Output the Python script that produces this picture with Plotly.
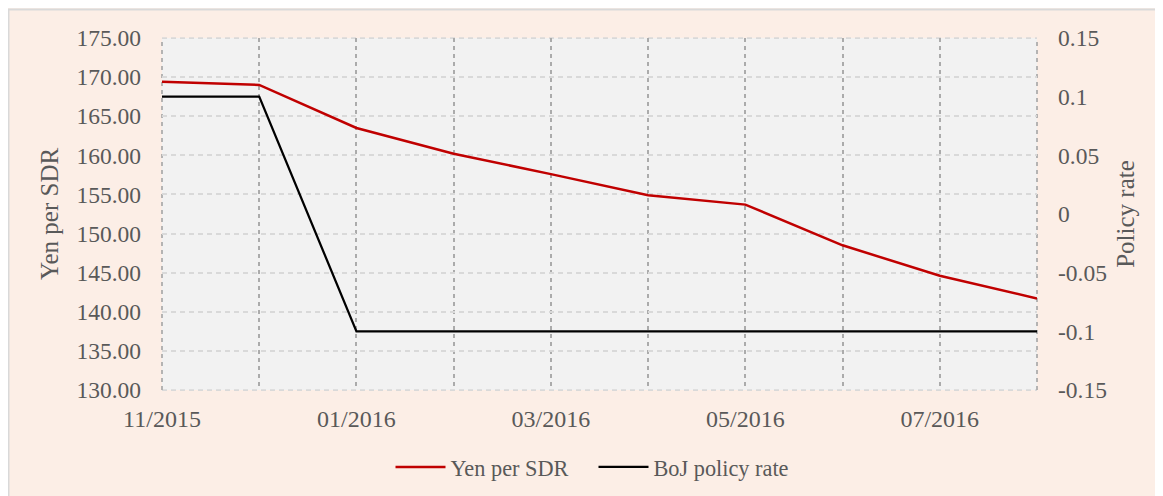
import plotly.graph_objects as go

months = ["11/2015", "12/2015", "01/2016", "02/2016", "03/2016",
          "04/2016", "05/2016", "06/2016", "07/2016", "08/2016"]
yen_per_sdr = [169.4, 169.0, 163.5, 160.2, 157.6, 154.9, 153.7, 148.5, 144.6, 141.7]
boj_rate = [0.1, 0.1, -0.1, -0.1, -0.1, -0.1, -0.1, -0.1, -0.1, -0.1]
x_ticktext = ["11/2015", "", "01/2016", "", "03/2016", "", "05/2016", "", "07/2016", ""]
y1_ticks = [130, 135, 140, 145, 150, 155, 160, 165, 170, 175]
y2_ticks = [-0.15, -0.1, -0.05, 0, 0.05, 0.1, 0.15]
y2_ticktext = ["-0.15", "-0.1", "-0.05", "0", "0.05", "0.1", "0.15"]

FONT = "Liberation Serif"
TXT = "#595959"
VGRID = dict(color="#ABABAB", width=1.75, dash="4px,4px")
HGRID = dict(color="#D9D9D9", width=1.75, dash="5px,4px")

W, H = 1155, 488
ML, MR, MT, MB = 154, 126, 30, 106
PW, PH = W - ML - MR, H - MT - MB

fig = go.Figure()
fig.add_trace(go.Scatter(x=months, y=yen_per_sdr, name="Yen per SDR", mode="lines",
                         line=dict(color="#C00000", width=2.5), yaxis="y",
                         legendwidth=138))
fig.add_trace(go.Scatter(x=months, y=boj_rate, name="BoJ policy rate", mode="lines",
                         line=dict(color="#000000", width=2.25), yaxis="y2"))

# chart border and plot-area panel
fig.add_shape(type="rect", xref="paper", yref="paper",
              x0=-(ML - 0.5) / PW, x1=1 + (MR + 20) / PW,
              y0=-(MB + 20) / PH, y1=1 + (MT - 1.5) / PH,
              fillcolor="#FCEEE6", line=dict(color="#D9D9D9", width=2), layer="below")
fig.add_shape(type="rect", xref="paper", yref="paper", x0=0, x1=1, y0=0, y1=1,
              fillcolor="#F2F2F2", line=dict(width=0), layer="below")
# gridlines at the plot-area edges (plotly omits them)
for yy in (0, 1):
    fig.add_shape(type="line", xref="paper", yref="paper", x0=0, x1=1, y0=yy, y1=yy,
                  line=HGRID, layer="below")
for xx in (0, 1):
    fig.add_shape(type="line", xref="paper", yref="paper", x0=xx, x1=xx, y0=0, y1=1,
                  line=VGRID, layer="below")

fig.update_layout(
    width=W, height=H, autosize=False,
    margin=dict(l=ML, r=MR, t=MT, b=MB, autoexpand=False),
    paper_bgcolor="#FCEEE6", plot_bgcolor="rgba(0,0,0,0)",
    font=dict(family=FONT, color=TXT, size=22),
    showlegend=True,
    legend=dict(orientation="h", x=0.492, xanchor="center", yref="container",
                y=1 - (467 - 8) / H, yanchor="middle", itemwidth=50,
                font=dict(size=22.3, color=TXT), bgcolor="rgba(0,0,0,0)"),
    xaxis=dict(type="category", categoryorder="array", categoryarray=months,
               range=[0, len(months) - 1], tickmode="array", tickvals=months,
               ticktext=x_ticktext, showgrid=True, gridcolor=VGRID["color"],
               gridwidth=VGRID["width"], griddash=VGRID["dash"], showline=False,
               zeroline=False, ticks="", ticklabelstandoff=12,
               tickfont=dict(size=24, color=TXT)),
    yaxis=dict(range=[130, 175], tickmode="array", tickvals=y1_ticks, tickformat=".2f",
               showgrid=True, gridcolor=HGRID["color"], gridwidth=HGRID["width"],
               griddash=HGRID["dash"], zeroline=False, showline=False, ticks="",
               ticklabelstandoff=20, tickfont=dict(size=23.5, color=TXT),
               title=dict(text="Yen per SDR", font=dict(size=25, color=TXT), standoff=10)),
    yaxis2=dict(range=[-0.15, 0.15], overlaying="y", side="right", tickmode="array",
                tickvals=y2_ticks, ticktext=y2_ticktext, showgrid=False, zeroline=False,
                showline=False, ticks="", ticklabelstandoff=20,
                tickfont=dict(size=23.5, color=TXT),
                title=dict(text="Policy rate", font=dict(size=25, color=TXT), standoff=10)),
)

fig.write_html("out.html")
